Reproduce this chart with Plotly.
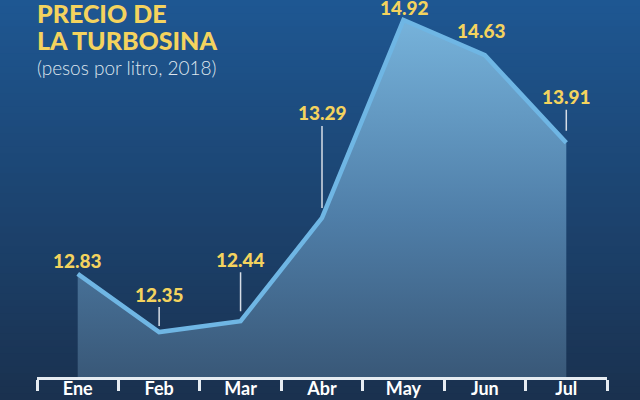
import plotly.graph_objects as go

months = ["Ene", "Feb", "Mar", "Abr", "May", "Jun", "Jul"]
prices = [12.83, 12.35, 12.44, 13.29, 14.92, 14.63, 13.91]
title_lines = ["PRECIO DE", "LA TURBOSINA"]
subtitle = "(pesos por litro, 2018)"

# label placement (pixel offsets) and whether a leader line is drawn
label_dx = [0, 0, 0, 0, 1, -3, 0]
label_dy = [-13, -38, -62, -105, -13, -25, -46]
leader = [False, True, True, True, False, False, True]
standoff = [0, 6, 10, 10, 0, 0, 12]

YMIN, YMAX = 11.98, 15.085
BG_TOP, BG_BOT = (0x1e, 0x57, 0x92), (0x1a, 0x31, 0x4f)
YELLOW = "#f4d35e"
FONT = "Lato"

fig = go.Figure()

fig.add_trace(go.Scatter(
    x=months, y=prices, mode="lines",
    line=dict(color="#6fb6e4", width=4.5),
    fill="tozeroy",
    fillgradient=dict(type="vertical",
                      colorscale=[[0, "#395878"], [0.45, "#4f7ea8"], [1, "#76b2da"]],
                      start=YMIN, stop=14.9),
    hoverinfo="skip", cliponaxis=False,
))
# invisible helper trace for boundary tick axis
fig.add_trace(go.Scatter(x=months, y=prices, xaxis="x2", mode="lines",
                         line=dict(width=0), opacity=0, hoverinfo="skip", showlegend=False))

# background gradient strips
n = 60
y0p, y1p = -23 / 377, 1.0
for i in range(n):
    t = i / (n - 1)
    c = tuple(round(BG_BOT[k] + (BG_TOP[k] - BG_BOT[k]) * t) for k in range(3))
    a = y0p + (y1p - y0p) * i / n
    b = y0p + (y1p - y0p) * (i + 1) / n
    fig.add_shape(type="rect", xref="paper", yref="paper",
                  x0=-37 / 570 - 0.01, x1=1 + 33 / 570 + 0.01, y0=a, y1=b + 0.002,
                  fillcolor="rgb(%d,%d,%d)" % c, line=dict(width=0), layer="below")

for i, (m, v) in enumerate(zip(months, prices)):
    if leader[i]:
        fig.add_annotation(x=m, y=v, text=f"{v:.2f}", showarrow=True, arrowhead=0,
                           arrowwidth=1.5, arrowcolor="#d6dde6", ax=label_dx[i], ay=label_dy[i],
                           standoff=standoff[i], borderpad=1,
                           font=dict(family=FONT, size=19, color=YELLOW, weight=900))
    else:
        fig.add_annotation(x=m, y=v, text=f"{v:.2f}", showarrow=False,
                           xshift=label_dx[i], yshift=-label_dy[i],
                           font=dict(family=FONT, size=19, color=YELLOW, weight=900))

for k, line in enumerate(title_lines):
    fig.add_annotation(xref="paper", yref="paper", x=0, y=1, xanchor="left", yanchor="middle",
                       yshift=-13 - 27 * k, xshift=-2, align="left", showarrow=False,
                       text=line, font=dict(family=FONT, size=25, color=YELLOW, weight=900))
fig.add_annotation(xref="paper", yref="paper", x=0, y=1, xanchor="left", yanchor="middle",
                   yshift=-67, xshift=-2, align="left", showarrow=False,
                   text=subtitle,
                   font=dict(family=FONT, size=19, color="#dfe6ee", weight=300))

fig.update_layout(
    width=640, height=400,
    margin=dict(l=37, r=33, t=0, b=23),
    paper_bgcolor="#1c4470", plot_bgcolor="rgba(0,0,0,0)",
    showlegend=False,
    xaxis=dict(type="category", categoryorder="array", categoryarray=months,
               range=[-0.5, 6.5], showgrid=False, zeroline=False, showline=False,
               ticks="", ticklabelstandoff=-1,
               tickfont=dict(family=FONT, size=18, color="#ffffff", weight="bold"),
               fixedrange=True),
    xaxis2=dict(type="category", categoryorder="array", categoryarray=months,
                overlaying="x", anchor="y", side="bottom", range=[-0.5, 6.5],
                showgrid=False, zeroline=False, showline=True, linecolor="#e6ecf2",
                linewidth=2.5, ticks="outside", tickson="boundaries", ticklen=11,
                tickwidth=2.5, tickcolor="#e6ecf2", showticklabels=False),
    yaxis=dict(range=[YMIN, YMAX], visible=False, fixedrange=True),
)

fig.write_html("out.html", config={"displayModeBar": False},
               post_script="document.body.style.margin='0';document.body.style.overflow='hidden';")
